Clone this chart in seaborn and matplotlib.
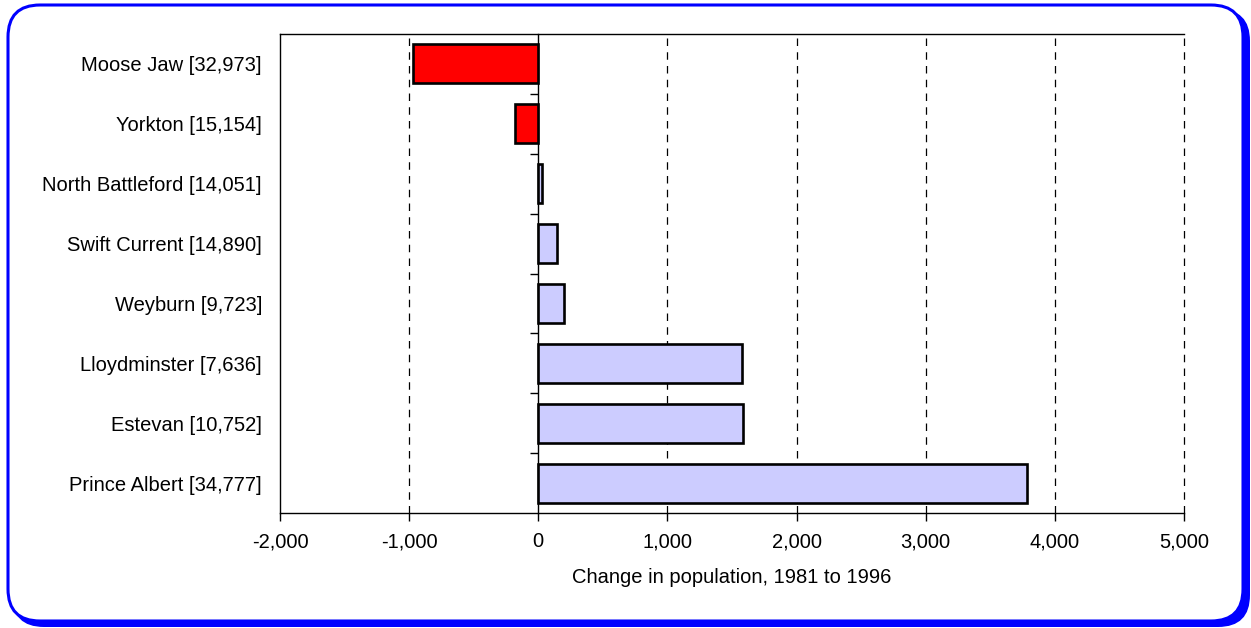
import matplotlib
matplotlib.use("Agg")
import matplotlib.pyplot as plt
from matplotlib.patches import FancyBboxPatch
from matplotlib.ticker import FuncFormatter, MultipleLocator
import seaborn as sns
import pandas as pd

# Saskatchewan cities (1996 population in brackets) and change in population 1981-1996
cities = [
    "Moose Jaw [32,973]",
    "Yorkton [15,154]",
    "North Battleford [14,051]",
    "Swift Current [14,890]",
    "Weyburn [9,723]",
    "Lloydminster [7,636]",
    "Estevan [10,752]",
    "Prince Albert [34,777]",
]
change = [-968, -180, 26, 142, 201, 1575, 1583, 3782]

df = pd.DataFrame({"city": cities, "change": change})
df["direction"] = ["loss" if v < 0 else "gain" for v in df["change"]]
palette = {"loss": "#FF0000", "gain": "#CCCCFF"}

sns.set_style("white")
plt.rcParams["font.family"] = ["Liberation Sans", "DejaVu Sans"]
plt.rcParams["text.color"] = "black"
plt.rcParams["axes.labelcolor"] = "black"
plt.rcParams["xtick.color"] = "black"
plt.rcParams["ytick.color"] = "black"

W, H = 1251, 628
fig = plt.figure(figsize=(W / 100, H / 100), dpi=100)

# Rounded blue frame with a drop shadow on the right and bottom
bg = fig.add_axes([0, 0, 1, 1])
bg.set_xlim(0, W)
bg.set_ylim(H, 0)
bg.axis("off")
shadow = FancyBboxPatch((12, 9), W - 13, H - 10,
                        boxstyle="round,pad=0,rounding_size=32",
                        facecolor="#0000FF", edgecolor="none")
frame = FancyBboxPatch((8, 5), W - 16, H - 12,
                       boxstyle="round,pad=0,rounding_size=32",
                       facecolor="white", edgecolor="#0000FF", linewidth=2.2)
bg.add_patch(shadow)
bg.add_patch(frame)

ax = fig.add_axes([280 / W, 1 - 513 / H, (1184 - 280) / W, (513 - 34) / H])
ax.set_zorder(2)

sns.barplot(data=df, x="change", y="city", hue="direction", palette=palette,
            orient="h", width=0.65, edgecolor="black", linewidth=1.9,
            saturation=1, legend=False, dodge=False, zorder=3, ax=ax)

ax.set_xlim(-2000, 5000)
ax.xaxis.set_major_locator(MultipleLocator(1000))
ax.xaxis.set_major_formatter(FuncFormatter(lambda v, p: f"{v:,.0f}"))
ax.set_xlabel("Change in population, 1981 to 1996", fontsize=14.5, labelpad=12,
              color="black")
ax.set_ylabel("")

# Dashed vertical gridlines behind the bars
for v in [-1000, 1000, 2000, 3000, 4000, 5000]:
    ax.axvline(v, color="black", linestyle=(0, (6, 5)), linewidth=0.9,
               zorder=0.5, clip_on=False)

for side in ["top", "left", "bottom"]:
    ax.spines[side].set_visible(True)
    ax.spines[side].set_color("black")
    ax.spines[side].set_linewidth(1.0)
ax.spines["right"].set_visible(False)

ax.tick_params(axis="x", direction="out", length=6, width=1, colors="black",
               labelsize=14.5, pad=8, bottom=True)
ax.tick_params(axis="y", length=0, labelsize=14.5, pad=13, left=False,
               colors="black")

# Category axis crossing at zero, with tick marks between categories
zero_pos = (0 - (-2000)) / 7000
cat_axis = ax.secondary_yaxis(zero_pos)
cat_axis.set_yticks([i + 0.5 for i in range(len(cities) - 1)])
cat_axis.set_yticklabels([])
cat_axis.tick_params(direction="out", length=6, width=1, colors="black")
cat_axis.spines["left"].set_color("black")
cat_axis.spines["left"].set_linewidth(1.0)

fig.savefig("out.png", dpi=100)
